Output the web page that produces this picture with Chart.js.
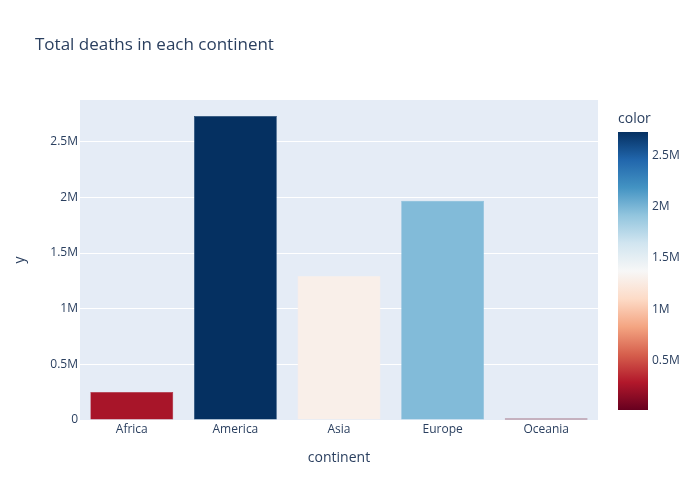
<!DOCTYPE html>
<html>
<head>
<meta charset="utf-8">
<script src="https://cdn.jsdelivr.net/npm/chart.js@4.4.0/dist/chart.umd.min.js"></script>
<style>
  html, body { margin: 0; padding: 0; background: #fff; }
  #wrap { width: 700px; height: 500px; }
</style>
</head>
<body>
<div id="wrap"><canvas id="myChart" width="700" height="500"></canvas></div>
<script>
const continents = ["Africa", "America", "Asia", "Europe", "Oceania"];
const deaths = [251000, 2731000, 1294000, 1970000, 14000];
const yTicks = [0, 500000, 1000000, 1500000, 2000000, 2500000];
const colorbarTicks = [500000, 1000000, 1500000, 2000000, 2500000];

// plotly RdBu
const rdbu = [
  [0, [103, 0, 31]], [0.1, [178, 24, 43]], [0.2, [214, 96, 77]],
  [0.3, [244, 165, 130]], [0.4, [253, 219, 199]], [0.5, [247, 247, 247]],
  [0.6, [209, 229, 240]], [0.7, [146, 197, 222]], [0.8, [67, 147, 195]],
  [0.9, [33, 102, 172]], [1, [5, 48, 97]],
];
const cmin = Math.min(...deaths);
const cmax = Math.max(...deaths);

function scaleColor(t) {
  t = Math.max(0, Math.min(1, t));
  for (let i = 1; i < rdbu.length; i++) {
    if (t <= rdbu[i][0]) {
      const [t0, c0] = rdbu[i - 1];
      const [t1, c1] = rdbu[i];
      const f = (t - t0) / (t1 - t0);
      const c = c0.map((v, k) => Math.round(v + (c1[k] - v) * f));
      return `rgb(${c[0]},${c[1]},${c[2]})`;
    }
  }
  return "rgb(5,48,97)";
}

function fmtM(v) {
  if (v === 0) return "0";
  return v / 1000000 + "M";
}

const font = "'Open Sans', 'DejaVu Sans', sans-serif";
const textColor = "#2a3f5f";
const barColors = deaths.map((d) => scaleColor((d - cmin) / (cmax - cmin)));

// plot background, title and colorbar
const decor = {
  id: "decor",
  beforeDraw(chart) {
    const { ctx, chartArea: a } = chart;
    ctx.save();
    ctx.fillStyle = "#E5ECF6";
    ctx.fillRect(a.left, a.top, a.right - a.left, a.bottom - a.top);
    ctx.restore();
  },
  afterDraw(chart) {
    const { ctx } = chart;
    ctx.save();
    ctx.fillStyle = textColor;
    ctx.font = "17px " + font;
    ctx.textBaseline = "middle";
    ctx.fillText("Total deaths in each continent", 35, 45);

    // colorbar
    const cbX = 618, cbW = 30, cbTop = 132, cbBot = 410;
    const grad = ctx.createLinearGradient(0, cbBot, 0, cbTop);
    rdbu.forEach(([t, c]) => grad.addColorStop(t, `rgb(${c[0]},${c[1]},${c[2]})`));
    ctx.fillStyle = grad;
    ctx.fillRect(cbX, cbTop, cbW, cbBot - cbTop);

    ctx.fillStyle = textColor;
    ctx.font = "14px " + font;
    ctx.fillText("color", 618, 119);
    ctx.font = "12px " + font;
    colorbarTicks.forEach((v) => {
      const y = cbBot - (v - cmin) / (cmax - cmin) * (cbBot - cbTop);
      ctx.fillText(fmtM(v), cbX + cbW + 4, y);
    });
    ctx.restore();
  },
};

const ctx = document.getElementById("myChart").getContext("2d");
new Chart(ctx, {
  type: "bar",
  data: {
    labels: continents,
    datasets: [
      {
        data: deaths,
        backgroundColor: barColors,
        borderColor: barColors,
        borderWidth: 0.5,
        categoryPercentage: 1,
        barPercentage: 0.8,
      },
    ],
  },
  options: {
    responsive: false,
    animation: false,
    devicePixelRatio: 1,
    layout: { padding: { top: 100, right: 102, left: 0, bottom: 30 } },
    plugins: { legend: { display: false }, tooltip: { enabled: false }, title: { display: false } },
    scales: {
      x: {
        grid: { display: false, drawTicks: false },
        border: { display: false },
        ticks: { color: textColor, font: { family: font, size: 12 }, padding: 2 },
        title: { display: true, text: "continent", color: textColor, font: { family: font, size: 14 }, padding: { top: 4, bottom: 4 } },
        afterFit(scale) { scale.height = 50; },
      },
      y: {
        min: 0,
        max: 2875000,
        afterBuildTicks(scale) { scale.ticks = yTicks.map((v) => ({ value: v })); },
        grid: { color: "#ffffff", lineWidth: 1, drawTicks: false },
        border: { display: false },
        ticks: { color: textColor, font: { family: font, size: 12 }, padding: 2, callback: (v) => fmtM(v) },
        title: { display: true, text: "y", color: textColor, font: { family: font, size: 14 }, padding: { top: 12, bottom: 4 } },
        afterFit(scale) { scale.width = 80; },
      },
    },
  },
  plugins: [decor],
});
</script>
</body>
</html>
